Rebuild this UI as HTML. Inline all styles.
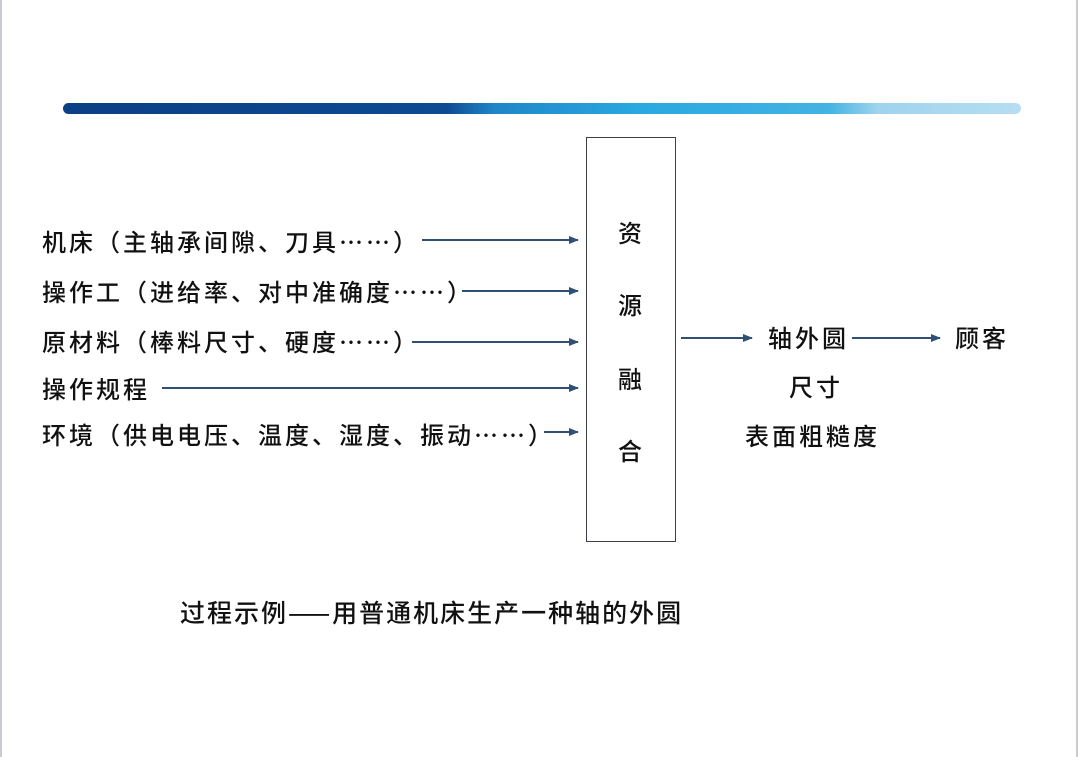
<!DOCTYPE html>
<html><head><meta charset="utf-8"><style>
body{margin:0;width:1080px;height:757px;background:#fff;position:relative;overflow:hidden;font-family:"Noto Sans CJK SC","Liberation Sans",sans-serif;color:#111}
.t{position:absolute;font-size:24px;line-height:28px;white-space:nowrap;letter-spacing:3px;font-weight:500}
.bar{position:absolute;left:63px;top:103px;width:958px;height:11px;border-radius:6px;background:linear-gradient(90deg,#0b3f86 0%,#0d4a92 40%,#1f86c8 45%,#2aa8e0 60%,#43b3e3 80%,#9fd3ee 85%,#b6def2 100%)}
</style></head><body>
<div style="position:absolute;left:0;top:0;width:2px;height:757px;background:#c8ccd2"></div>
<div style="position:absolute;right:2px;top:0;width:2px;height:757px;background:#c8ccd2"></div>
<div class="bar"></div>
<div style="position:absolute;left:586px;top:137px;width:88px;height:403px;border:1.5px solid #3a3f48"></div>
<div class="t" style="left:42px;top:227px">机床（主轴承间隙、刀具……）</div>
<div class="t" style="left:42px;top:277px">操作工（进给率、对中准确度……）</div>
<div class="t" style="left:42px;top:327px">原材料（棒料尺寸、硬度……）</div>
<div class="t" style="left:42px;top:374px">操作规程</div>
<div class="t" style="left:42px;top:420px">环境（供电电压、温度、湿度、振动……）</div>
<div class="t" style="left:618px;top:218px">资</div>
<div class="t" style="left:618px;top:290px">源</div>
<div class="t" style="left:618px;top:364px">融</div>
<div class="t" style="left:618px;top:436px">合</div>
<div class="t" style="left:768px;top:323px">轴外圆</div>
<div class="t" style="left:955px;top:323px">顾客</div>
<div class="t" style="left:789px;top:372px">尺寸</div>
<div class="t" style="left:745px;top:421px">表面粗糙度</div>
<div class="t" style="left:180px;top:598px;font-size:25px;letter-spacing:2px">过程示例——用普通机床生产一种轴的外圆</div>
<svg width="1080" height="757" style="position:absolute;left:0;top:0">
<defs><marker id="a" markerWidth="10" markerHeight="8" refX="9" refY="4" orient="auto" markerUnits="userSpaceOnUse"><path d="M0,0 L10,4 L0,8 z" fill="#2f4f75"/></marker></defs>
<g stroke="#2f4f75" stroke-width="2" marker-end="url(#a)">
<line x1="422" y1="240" x2="578" y2="240"/>
<line x1="462" y1="291" x2="578" y2="291"/>
<line x1="412" y1="342" x2="578" y2="342"/>
<line x1="162" y1="388" x2="578" y2="388"/>
<line x1="544" y1="432" x2="578" y2="432"/>
<line x1="681" y1="338" x2="752" y2="338"/>
<line x1="852" y1="338" x2="940" y2="338"/>
</g></svg>
</body></html>
